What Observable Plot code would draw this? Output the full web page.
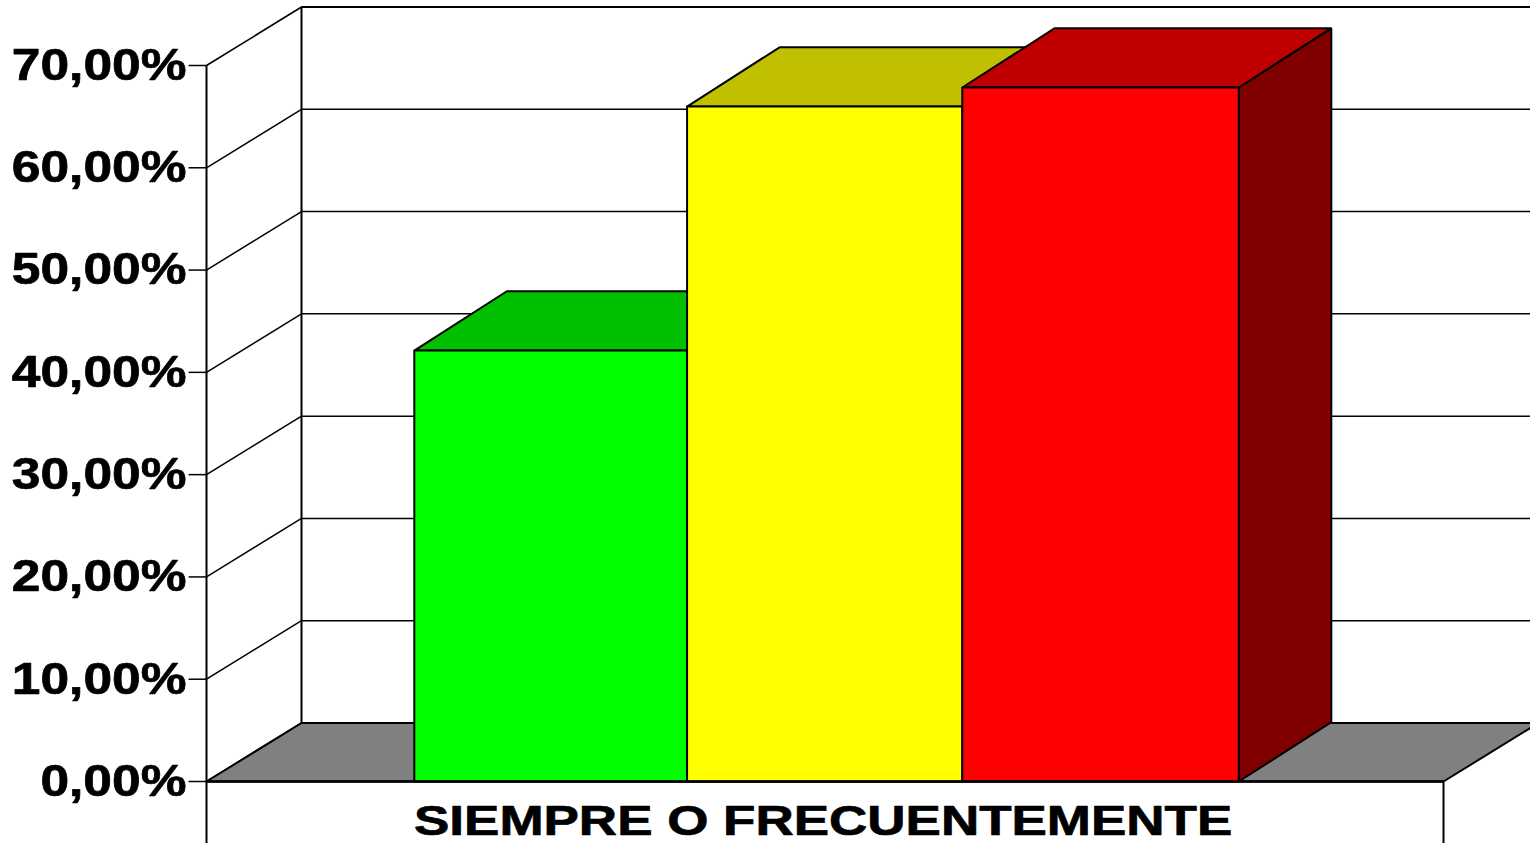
<!DOCTYPE html>
<html>
<head>
<meta charset="utf-8">
<style>
html,body{margin:0;padding:0;background:#fff;overflow:hidden}
svg{display:block;background:#fff}
</style>
<script src="https://cdn.jsdelivr.net/npm/d3@7"></script>
<script src="https://cdn.jsdelivr.net/npm/@observablehq/plot@0.6"></script>
</head>
<body>
<div id="chart"></div>
<script>
const seriesNames = ["Verde", "Amarillo", "Rojo"];
const seriesValues = [42.13, 65.98, 67.85];
const seriesEdges = [0.168, 0.3885, 0.611, 0.8345];
const frontColors = ["#00ff00", "#ffff00", "#ff0000"];
const topColors = ["#00c000", "#c0c000", "#c00000"];
const sideColors = ["#008000", "#808000", "#800000"];
const tickValues = [0, 10, 20, 30, 40, 50, 60, 70];
const tickLabels = ["0,00%", "10,00%", "20,00%", "30,00%", "40,00%", "50,00%", "60,00%", "70,00%"];
const categoryLabel = "SIEMPRE O FRECUENTEMENTE";
const floorColor = "#808080";

// Oblique projection of the depth axis, in scale units
const depthX = 0.0768;
const depthY = 5.72;
const barDepthX = 0.0748;
const barDepthY = 5.8;
const belowAxis = -6.06;

const poly = (pts, fill, strokeWidth = 2) =>
  Plot.line([...pts, pts[0]], {x: d => d[0], y: d => d[1], fill, stroke: "#000", strokeWidth, strokeLinejoin: "miter", curve: "linear"});

const marks = [];

// back wall and side wall lines
marks.push(Plot.link(tickValues, {x1: depthX, x2: 1 + depthX, y1: d => d + depthY, y2: d => d + depthY, stroke: "#000", strokeWidth: 1.5}));
marks.push(Plot.link(tickValues, {x1: 0, x2: depthX, y1: d => d, y2: d => d + depthY, stroke: "#000", strokeWidth: 1.5}));
marks.push(Plot.link(tickValues, {x1: -0.0145, x2: 0, y1: d => d, y2: d => d, stroke: "#000", strokeWidth: 1.5}));
marks.push(Plot.link([70], {x1: depthX, x2: 1 + depthX, y1: d => d + depthY, y2: d => d + depthY, stroke: "#000", strokeWidth: 2}));
marks.push(Plot.link([depthX], {x1: d => d, x2: d => d, y1: depthY, y2: 70 + depthY, stroke: "#000", strokeWidth: 2}));
marks.push(Plot.link([0, 1], {x1: d => d, x2: d => d, y1: belowAxis, y2: d => d === 0 ? 70 : 0, stroke: "#000", strokeWidth: 2}));

// floor
marks.push(poly([[0, 0], [1, 0], [1 + depthX, depthY], [depthX, depthY]], floorColor));

// bars, back to front in drawing order
seriesValues.forEach((v, i) => {
  const x0 = seriesEdges[i], x1 = seriesEdges[i + 1];
  marks.push(poly([[x1, 0], [x1 + barDepthX, barDepthY], [x1 + barDepthX, v + barDepthY], [x1, v]], sideColors[i]));
  marks.push(poly([[x0, v], [x1, v], [x1 + barDepthX, v + barDepthY], [x0 + barDepthX, v + barDepthY]], topColors[i]));
  marks.push(poly([[x0, 0], [x1, 0], [x1, v], [x0, v]], frontColors[i]));
});

// front floor edge
marks.push(Plot.link([0], {x1: 0, x2: 1, y1: 0, y2: 0, stroke: "#000", strokeWidth: 2.4}));

// labels
marks.push(Plot.text(tickValues, {
  x: 0, y: d => d, dx: -20, dy: 0,
  text: (d, i) => tickLabels[i],
  textAnchor: "end", lineAnchor: "middle", fontSize: 45, fontWeight: "bold",
  fontFamily: "Liberation Sans", fill: "#000", stroke: "#000", strokeWidth: 0.7, className: "ytick"
}));
marks.push(Plot.text([categoryLabel], {
  x: 0.4985, y: 0, dy: 39.5,
  text: d => d,
  textAnchor: "middle", lineAnchor: "middle", fontSize: 43, fontWeight: "bold",
  fontFamily: "Liberation Sans", fill: "#000", stroke: "#000", strokeWidth: 0.7, className: "xlabel"
}));

const chart = Plot.plot({
  width: 1530, height: 843,
  marginTop: 0, marginRight: 0, marginBottom: 0, marginLeft: 0,
  style: {background: "#fff", overflow: "hidden"},
  x: {type: "linear", domain: [0, 1], range: [206, 1443], axis: null},
  y: {type: "linear", domain: [0, 70], range: [781, 65], axis: null},
  marks
});
document.getElementById("chart").append(chart);

// Stretch the text to the reference's wide proportions
const widen = (sel, factor) => chart.querySelectorAll(sel).forEach(t => {
  const w = t.getComputedTextLength();
  t.setAttribute("textLength", w * factor);
  t.setAttribute("lengthAdjust", "spacingAndGlyphs");
});
widen(".ytick text", 1.145);
widen(".xlabel text", 1.232);
</script>
</body>
</html>
